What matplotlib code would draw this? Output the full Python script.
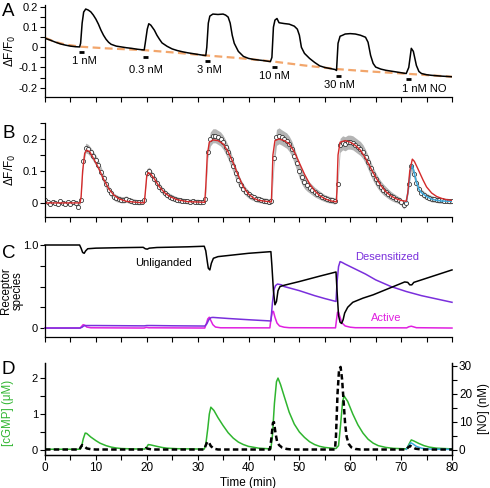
import numpy as np
import matplotlib
matplotlib.use("Agg")
import matplotlib.pyplot as plt
from matplotlib.ticker import MultipleLocator, FixedLocator, FixedFormatter

plt.rcParams['font.family'] = ['Liberation Sans', 'DejaVu Sans']

# ---------------- Panel A data ----------------
a_t = [0, 1, 2, 3, 4, 5, 6, 6.8, 7.0, 7.3, 7.6, 8.0, 8.5, 9, 9.5, 10, 10.5, 11, 11.5, 12, 12.5, 13, 14, 15,
       16, 17, 18, 19, 19.5, 19.7, 20.1, 20.4, 20.8, 21.5, 22, 22.5, 23, 24, 25, 26, 27, 28, 29, 30, 31,
       31.6, 31.8, 32.1, 32.4, 33, 34, 35, 35.5, 36, 36.4, 36.8, 37.2, 38, 39, 40, 41, 42, 43, 44.3, 44.6,
       44.9, 45.2, 45.6, 46, 47, 48, 49, 49.6, 50, 50.4, 51, 52, 53, 54, 55, 56, 57, 57.3, 57.6, 58, 58.5,
       59, 60, 61, 62, 63, 63.5, 64, 64.5, 65, 66, 67, 68, 69, 70, 71, 71.5, 72, 72.4, 73, 73.5, 74, 75,
       76, 78, 80]
a_v = [0.045, 0.036, 0.026, 0.017, 0.011, 0.006, 0.003, 0.002, 0.02, 0.12, 0.175, 0.19, 0.185, 0.176,
       0.16, 0.14, 0.115, 0.085, 0.06, 0.04, 0.025, 0.015, 0.006, 0.002, -0.002, -0.005, -0.009, -0.012,
       -0.013, 0.02, 0.09, 0.117, 0.11, 0.085, 0.06, 0.04, 0.022, 0.005, -0.008, -0.016, -0.022, -0.027,
       -0.031, -0.035, -0.039, -0.041, 0.0, 0.12, 0.155, 0.165, 0.163, 0.165, 0.16, 0.15, 0.12, 0.06,
       0.02, -0.02, -0.045, -0.055, -0.06, -0.063, -0.066, -0.071, -0.05, 0.10, 0.135, 0.143, 0.122, 0.118,
       0.115, 0.105, 0.09, 0.06, 0.0, -0.03, -0.055, -0.075, -0.092, -0.1, -0.105, -0.11, -0.115, 0.02,
       0.055, 0.06, 0.066, 0.068, 0.066, 0.06, 0.05, 0.025, -0.04, -0.08, -0.098, -0.108, -0.114, -0.118,
       -0.122, -0.126, -0.13, -0.1, -0.005, -0.02, -0.09, -0.12, -0.13, -0.136, -0.139, -0.143, -0.146]
base_t = [0, 2, 4, 7, 12, 19.5, 25, 31.5, 38, 44.7, 51, 57.4, 64, 71, 80]
base_v = [0.047, 0.027, 0.014, 0.003, -0.005, -0.014, -0.025, -0.04, -0.053, -0.07, -0.09, -0.108,
          -0.12, -0.131, -0.146]
stim_t = [6.7, 19.3, 31.4, 44.6, 57.2, 70.9]
stim_labels = ["1 nM", "0.3 nM", "3 nM", "10 nM", "30 nM", "1 nM NO"]

# ---------------- Panel B data ----------------
b_t = np.arange(0, 80.5, 0.5)
b_mean = [0.01, 0.002, -0.003, 0.003, 0.0, -0.004, 0.005, 0.0, -0.003, 0.002, -0.002, 0.003, 0.0, -0.012,
          0.01, 0.13, 0.172, 0.168, 0.158, 0.146, 0.133, 0.118, 0.098, 0.078, 0.058, 0.042, 0.03, 0.02,
          0.015, 0.012, 0.01, 0.01, 0.012, 0.008, 0.006, 0.004, 0.003, 0.002, 0.003,
          0.008, 0.095, 0.1, 0.088, 0.075, 0.062, 0.05, 0.04, 0.032, 0.025, 0.02, 0.016, 0.013, 0.01,
          0.008, 0.007, 0.006, 0.005, 0.004, 0.006, 0.003, 0.004, 0.002, 0.003,
          0.012, 0.16, 0.2, 0.21, 0.21, 0.205, 0.2, 0.19, 0.175, 0.158, 0.138, 0.115, 0.093, 0.073, 0.057,
          0.045, 0.035, 0.027, 0.021, 0.017, 0.013, 0.011, 0.009, 0.007, 0.006, 0.004,
          0.006, 0.14, 0.205, 0.21, 0.205, 0.2, 0.195, 0.185, 0.17, 0.148, 0.125, 0.1, 0.08, 0.065, 0.055,
          0.048, 0.041, 0.034, 0.029, 0.024, 0.019, 0.015, 0.012, 0.01, 0.008, 0.006,
          0.06, 0.18, 0.188, 0.185, 0.19, 0.19, 0.188, 0.182, 0.176, 0.17, 0.16, 0.145, 0.127, 0.108, 0.09,
          0.075, 0.062, 0.051, 0.042, 0.035, 0.028, 0.022, 0.017, 0.013, 0.009, 0.004, -0.008, 0.0,
          0.06, 0.115, 0.092, 0.062, 0.043, 0.032, 0.025, 0.02, 0.016, 0.013, 0.011, 0.01, 0.008, 0.008,
          0.006, 0.007, 0.005, 0.006]
b_sd = [0.008] * 14 + \
       [0.008, 0.014, 0.015, 0.015, 0.015, 0.016, 0.016, 0.016, 0.016, 0.015, 0.014, 0.013, 0.012, 0.011,
        0.011, 0.01, 0.01, 0.01, 0.01, 0.009, 0.009, 0.009, 0.008, 0.008, 0.008] + \
       [0.008, 0.012, 0.012, 0.012, 0.012, 0.012, 0.012, 0.011, 0.011, 0.01, 0.01, 0.01, 0.009, 0.009,
        0.009, 0.008, 0.008, 0.008, 0.008, 0.008, 0.008, 0.008, 0.008, 0.008] + \
       [0.01, 0.02, 0.022, 0.022, 0.022, 0.022, 0.022, 0.022, 0.022, 0.022, 0.022, 0.02, 0.02, 0.018, 0.016,
        0.014, 0.013, 0.012, 0.011, 0.01, 0.01, 0.01, 0.009, 0.009, 0.009, 0.009] + \
       [0.01, 0.025, 0.025, 0.025, 0.024, 0.024, 0.024, 0.024, 0.024, 0.024, 0.024, 0.023, 0.022, 0.02,
        0.018, 0.017, 0.016, 0.015, 0.014, 0.013, 0.012, 0.011, 0.011, 0.01, 0.01, 0.01] + \
       [0.015, 0.022, 0.022, 0.022, 0.022, 0.022, 0.022, 0.022, 0.022, 0.022, 0.022, 0.022, 0.022, 0.022,
        0.021, 0.02, 0.019, 0.018, 0.017, 0.016, 0.015, 0.014, 0.013, 0.012, 0.011, 0.011, 0.011, 0.01] + \
       [0.012, 0.014, 0.014, 0.013, 0.012, 0.011, 0.011, 0.01, 0.01, 0.01, 0.009, 0.009, 0.009, 0.009,
        0.008, 0.008, 0.008, 0.008]
fit_t = [0, 6.9, 7.1, 7.4, 7.8, 8.2, 8.8, 9.5, 10.5, 11.5, 12.5, 13.5, 14.5, 16, 18, 19.5, 19.7, 20.0,
         20.3, 20.8, 21.5, 22.5, 23.5, 24.5, 26, 28, 31.4, 31.6, 31.9, 32.3, 33, 34, 35, 36, 37, 38, 39,
         40, 41, 42, 44.5, 44.6, 44.8, 45.2, 46, 47, 48, 49, 50, 51, 52, 53, 54, 55, 56, 57.3, 57.4, 57.6,
         58, 59, 60, 61, 62, 63, 64, 65, 66, 67, 68, 69, 70, 71, 71.3, 71.7, 72.2, 72.6, 73.2, 74.3, 75,
         76, 77, 78, 79, 80]
fit_v = [0, 0, 0.02, 0.1, 0.155, 0.165, 0.16, 0.14, 0.11, 0.075, 0.045, 0.025, 0.013, 0.005, 0.002, 0.0,
         0.03, 0.085, 0.095, 0.09, 0.075, 0.05, 0.032, 0.02, 0.01, 0.004, 0.002, 0.05, 0.15, 0.19, 0.197,
         0.195, 0.185, 0.16, 0.125, 0.085, 0.05, 0.028, 0.015, 0.008, 0.003, 0.05, 0.15, 0.195, 0.2, 0.195,
         0.185, 0.16, 0.125, 0.09, 0.06, 0.038, 0.023, 0.013, 0.007, 0.003, 0.05, 0.15, 0.19, 0.195, 0.19,
         0.18, 0.165, 0.14, 0.11, 0.08, 0.055, 0.035, 0.022, 0.013, 0.008, 0.005, 0.03, 0.1, 0.137, 0.13,
         0.11, 0.072, 0.05, 0.031, 0.02, 0.014, 0.01, 0.008]
fitno_t = [71.0, 71.4, 71.8, 72.1, 72.5, 73.0, 73.5, 74, 75, 76, 77, 78, 80]
fitno_v = [0.003, 0.04, 0.1, 0.119, 0.1, 0.065, 0.043, 0.032, 0.02, 0.012, 0.008, 0.006, 0.005]

# ---------------- Panel C data ----------------
unl_t = [0, 6.8, 7.1, 7.4, 7.7, 8.0, 8.4, 10, 15, 19.3, 19.7, 20.1, 20.5, 22, 28, 31.3, 31.6, 31.9, 32.1,
         32.4, 32.7, 33.1, 34, 37, 40, 44.4, 44.6, 44.9, 45.2, 45.5, 45.8, 46.2, 47, 50, 54, 57.2, 57.4,
         57.7, 58.0, 58.3, 58.6, 58.9, 59.5, 60.5, 62.5, 64.5, 66.5, 68.5, 70.7, 71.3, 71.7, 72.1, 72.5,
         74, 77, 80]
unl_v = [1.0, 1.0, 0.96, 0.91, 0.9, 0.93, 0.955, 0.962, 0.968, 0.972, 0.955, 0.95, 0.962, 0.97, 0.978,
         0.985, 0.93, 0.8, 0.72, 0.7, 0.78, 0.84, 0.86, 0.88, 0.9, 0.92, 0.75, 0.45, 0.28, 0.32, 0.45, 0.5,
         0.515, 0.56, 0.625, 0.675, 0.45, 0.15, 0.07, 0.055, 0.1, 0.18, 0.25, 0.31, 0.36, 0.4, 0.45, 0.5,
         0.555, 0.55, 0.52, 0.52, 0.55, 0.58, 0.64, 0.70]
des_t = [0, 6.9, 7.3, 7.6, 8, 10, 15, 19.5, 20, 21, 25, 31.4, 31.8, 32.2, 32.6, 33, 36, 40, 44.4, 44.7,
         45.0, 45.3, 45.7, 46.5, 47, 50, 53, 55, 57.2, 57.4, 57.7, 58.0, 58.4, 59, 61, 63, 65, 68, 71, 74,
         77, 80]
des_v = [0, 0, 0.01, 0.025, 0.03, 0.03, 0.028, 0.026, 0.03, 0.03, 0.027, 0.024, 0.05, 0.1, 0.125, 0.128,
         0.115, 0.1, 0.085, 0.3, 0.46, 0.51, 0.53, 0.52, 0.5, 0.45, 0.39, 0.355, 0.32, 0.55, 0.74, 0.8,
         0.79, 0.77, 0.71, 0.65, 0.58, 0.5, 0.44, 0.39, 0.35, 0.31]
act_t = [0, 6.9, 7.2, 7.5, 7.8, 8.2, 9, 19.5, 19.9, 20.4, 31.4, 31.7, 32.0, 32.3, 32.6, 33, 33.5, 34.5,
         44.2, 44.4, 44.7, 44.9, 45.2, 45.6, 46.1, 47, 48, 57.1, 57.3, 57.5, 57.7, 58.0, 58.4, 59.0, 60,
         61, 71.1, 71.5, 72, 72.4, 73, 80]
act_v = [0, 0, 0.02, 0.04, 0.035, 0.012, 0.003, 0.0, 0.008, 0.003, 0.0, 0.05, 0.11, 0.13, 0.09, 0.04,
         0.012, 0.003, 0.002, 0.1, 0.2, 0.2, 0.13, 0.06, 0.025, 0.01, 0.004, 0.002, 0.1, 0.19, 0.19, 0.13,
         0.06, 0.025, 0.01, 0.004, 0.002, 0.015, 0.022, 0.015, 0.004, 0.0]

# ---------------- Panel D data ----------------
cg_t = [0, 6.9, 7.2, 7.5, 7.9, 8.2, 9, 10, 10.8, 12, 13, 14, 15, 17, 19.6, 20.0, 20.3, 20.8, 22, 23, 24,
        26, 31.3, 31.6, 32.0, 32.3, 32.6, 33.2, 34, 35, 36, 37, 38, 39, 40, 42, 44.4, 44.7, 45.1, 45.5,
        45.8, 46.3, 47, 48, 49, 50, 51, 52, 53, 54, 55, 57.2, 57.7, 58.1, 58.5, 58.8, 59.5, 60.5, 61.5,
        62.5, 63.5, 64.5, 65.5, 67, 68.5, 71.1, 71.5, 72.0, 72.5, 73.5, 74.5, 75.5, 77, 80]
cg_v = [0.02, 0.02, 0.1, 0.3, 0.47, 0.46, 0.36, 0.26, 0.19, 0.12, 0.08, 0.055, 0.04, 0.03, 0.025, 0.08,
        0.15, 0.14, 0.1, 0.07, 0.05, 0.035, 0.025, 0.15, 0.6, 1.0, 1.19, 1.1, 0.9, 0.68, 0.48, 0.33, 0.22,
        0.15, 0.1, 0.05, 0.03, 0.4, 1.3, 1.9, 2.0, 1.82, 1.5, 1.05, 0.72, 0.5, 0.35, 0.23, 0.15, 0.1, 0.07,
        0.04, 0.12, 0.7, 1.35, 1.5, 1.35, 1.0, 0.7, 0.47, 0.3, 0.19, 0.12, 0.07, 0.045, 0.03, 0.15, 0.28,
        0.25, 0.18, 0.12, 0.08, 0.05, 0.03]
cgno_t = [71.0, 71.5, 71.9, 72.3, 73, 74, 75, 77, 80]
cgno_v = [0.02, 0.12, 0.2, 0.17, 0.1, 0.05, 0.03, 0.02, 0.015]
no_t = [0, 6.8, 7.0, 7.3, 7.7, 8.2, 9, 10, 19.5, 19.8, 20.2, 21, 31.3, 31.6, 31.9, 32.2, 32.6, 33.2, 34,
        44.2, 44.5, 44.8, 45.0, 45.3, 45.6, 46, 46.6, 47.5, 48.5, 57.0, 57.2, 57.5, 57.8, 58.1, 58.4, 58.7,
        59.0, 59.3, 59.7, 60.2, 61, 62, 71.0, 71.4, 71.8, 72.2, 72.8, 74, 80]
no_v = [0, 0, 0.8, 1.6, 1.2, 0.4, 0.1, 0, 0, 0.5, 0.3, 0, 0, 1.5, 2.8, 2.6, 1.2, 0.3, 0, 0, 4, 9.5,
        9.8, 6, 3, 1.6, 0.7, 0.2, 0, 0, 5, 20, 28.5, 29.5, 25, 17, 9, 4.5, 2, 0.8, 0.2, 0, 0, 0.8, 1.3,
        0.9, 0.3, 0, 0]

# ---------------- colours ----------------
ORANGE = '#f2a66c'
RED = '#d42a2a'
BLUE = '#3aa8dc'
PURPLE = '#7a2fdc'
MAGENTA = '#e020e0'
GREEN = '#2fb52f'

FS = 8
fig = plt.figure(figsize=(4.9, 4.88), dpi=100)
L, W = 45 / 490, 407 / 490


def fig_ax(top, bottom):
    return fig.add_axes([L, 1 - bottom / 488, W, (bottom - top) / 488])


def style(ax, right=False):
    ax.spines['top'].set_visible(False)
    if not right:
        ax.spines['right'].set_visible(False)
    for s in ax.spines.values():
        s.set_linewidth(0.9)
    ax.set_xlim(0, 80)
    ax.xaxis.set_major_locator(MultipleLocator(10))
    ax.xaxis.set_minor_locator(MultipleLocator(5))
    ax.tick_params(which='both', direction='out', width=0.8, labelsize=FS, pad=1.5)
    ax.tick_params(which='major', length=3.5)
    ax.tick_params(which='minor', length=3.5)


# Panel A
axA = fig_ax(5, 97.3)
style(axA)
axA.plot(base_t, base_v, color=ORANGE, lw=1.6, ls=(0, (3.5, 2)))
axA.plot(a_t, a_v, color='black', lw=1.1)
axA.set_ylim(-0.248, 0.21)
axA.yaxis.set_major_locator(FixedLocator([-0.2, -0.1, 0, 0.1, 0.2]))
axA.yaxis.set_major_formatter(FixedFormatter(['-0.2', '-0.1', '0', '0.1', '0.2']))
axA.yaxis.set_minor_locator(MultipleLocator(0.05))
axA.tick_params(axis='x', labelbottom=False)
bar_y = [-0.025, -0.048, -0.066, -0.096, -0.141, -0.156]
lab_y = [-0.070, -0.114, -0.115, -0.141, -0.186, -0.205]
lab_dx = [1.0, 0.5, 1.0, 0.5, 0.7, 3.7]
for st, by, ly, dx, lab in zip(stim_t, bar_y, lab_y, lab_dx, stim_labels):
    axA.plot([st, st + 1.0], [by, by], color='black', lw=2.0, solid_capstyle='butt')
    axA.text(st + dx, ly, lab, fontsize=FS, ha='center', va='center')
axA.set_ylabel('ΔF/F$_0$', fontsize=FS + 0.5)
axA.yaxis.set_label_coords(-0.066, 0.5)

# Panel B
axB = fig_ax(123, 217)
style(axB)
b_mean_arr = np.array(b_mean)
b_sd_arr = np.array(b_sd)
axB.fill_between(b_t, b_mean_arr - b_sd_arr, b_mean_arr + b_sd_arr, color='#b4b4b4', lw=0)
axB.plot(b_t, b_mean, ls='none', marker='o', ms=3.0, mfc='white', mec='#2a2a2a', mew=0.55)
axB.plot(fitno_t, fitno_v, color=BLUE, lw=1.1)
axB.plot(fit_t, fit_v, color=RED, lw=1.0)
axB.set_ylim(-0.044, 0.25)
axB.yaxis.set_major_locator(FixedLocator([0, 0.1, 0.2]))
axB.yaxis.set_major_formatter(FixedFormatter(['0', '0.1', '0.2']))
axB.yaxis.set_minor_locator(MultipleLocator(0.05))
axB.tick_params(axis='x', labelbottom=False)
axB.set_ylabel('ΔF/F$_0$', fontsize=FS + 0.5)
axB.yaxis.set_label_coords(-0.066, 0.5)

# Panel C
axC = fig_ax(245, 337)
style(axC)
axC.plot(act_t, act_v, color=MAGENTA, lw=1.1, clip_on=False)
axC.plot(des_t, des_v, color=PURPLE, lw=1.1, clip_on=False)
axC.plot(unl_t, unl_v, color='black', lw=1.1, clip_on=False)
axC.set_ylim(-0.108, 1.0)
axC.yaxis.set_major_locator(FixedLocator([0, 0.25, 0.5, 0.75, 1.0]))
axC.yaxis.set_major_formatter(FixedFormatter(['0', '', '', '', '1.0']))
axC.tick_params(axis='x', labelbottom=False)
axC.set_ylabel('Receptor\nspecies', fontsize=FS + 0.3, linespacing=0.95)
axC.yaxis.set_label_coords(-0.053, 0.5)
axC.text(23.2, 0.78, 'Unliganded', fontsize=FS, ha='center', va='center', color='black')
axC.text(67.2, 0.85, 'Desensitized', fontsize=FS, ha='center', va='center', color=PURPLE)
axC.text(67.0, 0.116, 'Active', fontsize=FS, ha='center', va='center', color=MAGENTA)

# Panel D
axD = fig_ax(363, 455)
style(axD, right=True)
axD.plot(cg_t, cg_v, color=GREEN, lw=1.1)
axD.plot(cgno_t, cgno_v, color=BLUE, lw=1.1)
axD.set_ylim(-0.14, 2.42)
axD.yaxis.set_major_locator(MultipleLocator(1))
axD.yaxis.set_minor_locator(MultipleLocator(0.5))
axD.set_ylabel('[cGMP] (μM)', fontsize=FS + 0.3, color=GREEN)
axD.yaxis.set_label_coords(-0.077, 0.46)
axD.set_xlabel('Time (min)', fontsize=FS + 0.5, labelpad=2)
axD.tick_params(axis='x', labelsize=FS + 0.5)
axD2 = axD.twinx()
axD2.spines['top'].set_visible(False)
for s in axD2.spines.values():
    s.set_linewidth(0.9)
axD2.plot(no_t, no_v, color='black', lw=1.8, ls=(0, (2.2, 1.3)))
axD2.set_ylim(-1.96, 30.9)
axD2.yaxis.set_major_locator(MultipleLocator(10))
axD2.yaxis.set_minor_locator(MultipleLocator(5))
axD2.tick_params(which='both', direction='out', width=0.8, length=3.5, labelsize=FS + 0.5, pad=1.5)
axD2.set_ylabel('[NO] (nM)', fontsize=FS + 0.3)
axD2.yaxis.set_label_coords(1.063, 0.5)

# panel letters
for lab, yp in zip(['A', 'B', 'C', 'D'], [11.5, 133, 253, 369]):
    fig.text(8.5 / 490, 1 - yp / 488, lab, fontsize=13.5, ha='center', va='center')

fig.savefig('out.png', dpi=100)
